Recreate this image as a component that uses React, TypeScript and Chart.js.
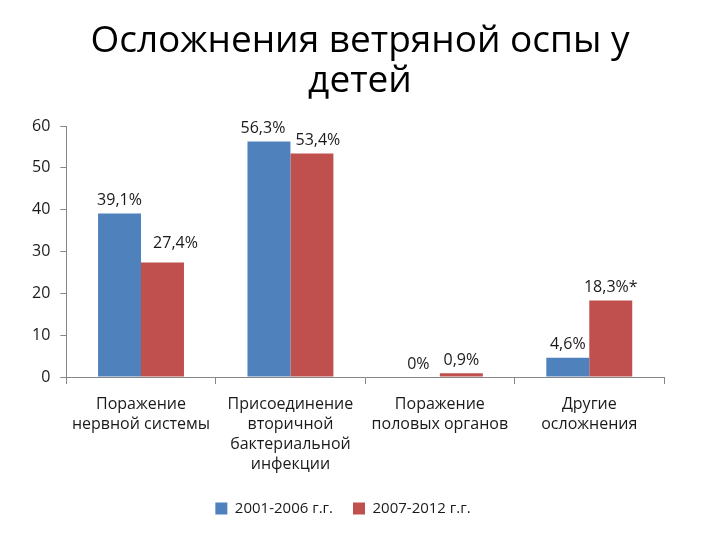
import React, { useEffect, useRef } from "react";
import { Chart, registerables } from "chart.js";

Chart.register(...registerables);

const titleLines = ["Осложнения ветряной оспы у", "детей"];
const categories: string[][] = [
  ["Поражение", "нервной системы"],
  ["Присоединение", "вторичной", "бактериальной", "инфекции"],
  ["Поражение", "половых органов"],
  ["Другие", "осложнения"],
];
const seriesNames = ["2001-2006 г.г.", "2007-2012 г.г."];
const series1 = [39.1, 56.3, 0, 4.6];
const series2 = [27.4, 53.4, 0.9, 18.3];
const labels1 = ["39,1%", "56,3%", "0%", "4,6%"];
const labels2 = ["27,4%", "53,4%", "0,9%", "18,3%*"];
const yTicks = [0, 10, 20, 30, 40, 50, 60];

const FONT = "'Open Sans', 'DejaVu Sans', sans-serif";

// small manual nudges of data labels, as in the original slide (style only)
const labelNudge: Record<string, [number, number]> = {
  "1-0": [13, -6],
  "0-1": [-6, 0],
  "1-1": [6, 0],
};

const dataLabelPlugin = {
  id: "dataLabels",
  afterDatasetsDraw(chart: any) {
    const ctx = chart.ctx;
    const all = [labels1, labels2];
    ctx.save();
    ctx.font = `16px ${FONT}`;
    ctx.fillStyle = "#1a1a1a";
    ctx.textAlign = "center";
    ctx.textBaseline = "bottom";
    chart.data.datasets.forEach((_ds: any, di: number) => {
      const meta = chart.getDatasetMeta(di);
      meta.data.forEach((el: any, i: number) => {
        const [dx, dy] = labelNudge[`${di}-${i}`] || [0, 0];
        ctx.fillText(all[di][i], el.x + dx, el.y - 5 + dy);
      });
    });
    ctx.restore();
  },
};

const titlePlugin = {
  id: "centeredTitle",
  afterDraw(chart: any) {
    const ctx = chart.ctx;
    ctx.save();
    ctx.font = `37px ${FONT}`;
    ctx.fillStyle = "#000";
    ctx.textAlign = "center";
    ctx.textBaseline = "middle";
    titleLines.forEach((line, i) => {
      ctx.fillText(line, chart.width / 2, 41 + i * 40);
    });
    ctx.restore();
  },
};

export default function App() {
  const ref = useRef<HTMLCanvasElement>(null);
  useEffect(() => {
    document.body.style.margin = "0";
    const chart = new Chart(ref.current!, {
      type: "bar",
      data: {
        labels: categories,
        datasets: [
          {
            label: seriesNames[0],
            data: series1,
            backgroundColor: "#4F81BD",
            categoryPercentage: 0.575,
            barPercentage: 1,
          },
          {
            label: seriesNames[1],
            data: series2,
            backgroundColor: "#C0504D",
            categoryPercentage: 0.575,
            barPercentage: 1,
          },
        ],
      },
      options: {
        animation: false,
        responsive: false,
        layout: { padding: { left: 22, right: 56, top: 126, bottom: 14 } },
        plugins: {
          title: { display: false },
          legend: {
            position: "bottom",
            labels: {
              color: "#1a1a1a",
              font: { family: FONT, size: 15 },
              boxWidth: 12,
              boxHeight: 12,
              padding: 20,
            },
          },
          tooltip: { enabled: false },
        },
        scales: {
          x: {
            border: { color: "#868686", width: 1 },
            grid: {
              display: true,
              drawOnChartArea: false,
              offset: true,
              tickLength: 7,
              color: "#868686",
            },
            afterFit: (axis: any) => {
              axis.height = axis.height - 3;
            },
            ticks: {
              color: "#1a1a1a",
              font: { family: FONT, size: 16, lineHeight: 1.25 },
              maxRotation: 0,
              autoSkip: false,
              padding: 10,
            },
          },
          y: {
            min: 0,
            max: 60,
            border: { color: "#868686", width: 1 },
            grid: {
              display: true,
              drawOnChartArea: false,
              tickLength: 6,
              color: "#868686",
            },
            afterBuildTicks: (axis: any) => {
              axis.ticks = yTicks.map((v) => ({ value: v }));
            },
            ticks: {
              color: "#1a1a1a",
              font: { family: FONT, size: 16 },
              padding: 10,
            },
          },
        },
      },
      plugins: [dataLabelPlugin, titlePlugin],
    });
    return () => chart.destroy();
  }, []);
  return (
    <div style={{ position: "absolute", left: 0, top: 0, width: 720, height: 540, background: "#fff" }}>
      <canvas ref={ref} width={720} height={540} />
    </div>
  );
}
